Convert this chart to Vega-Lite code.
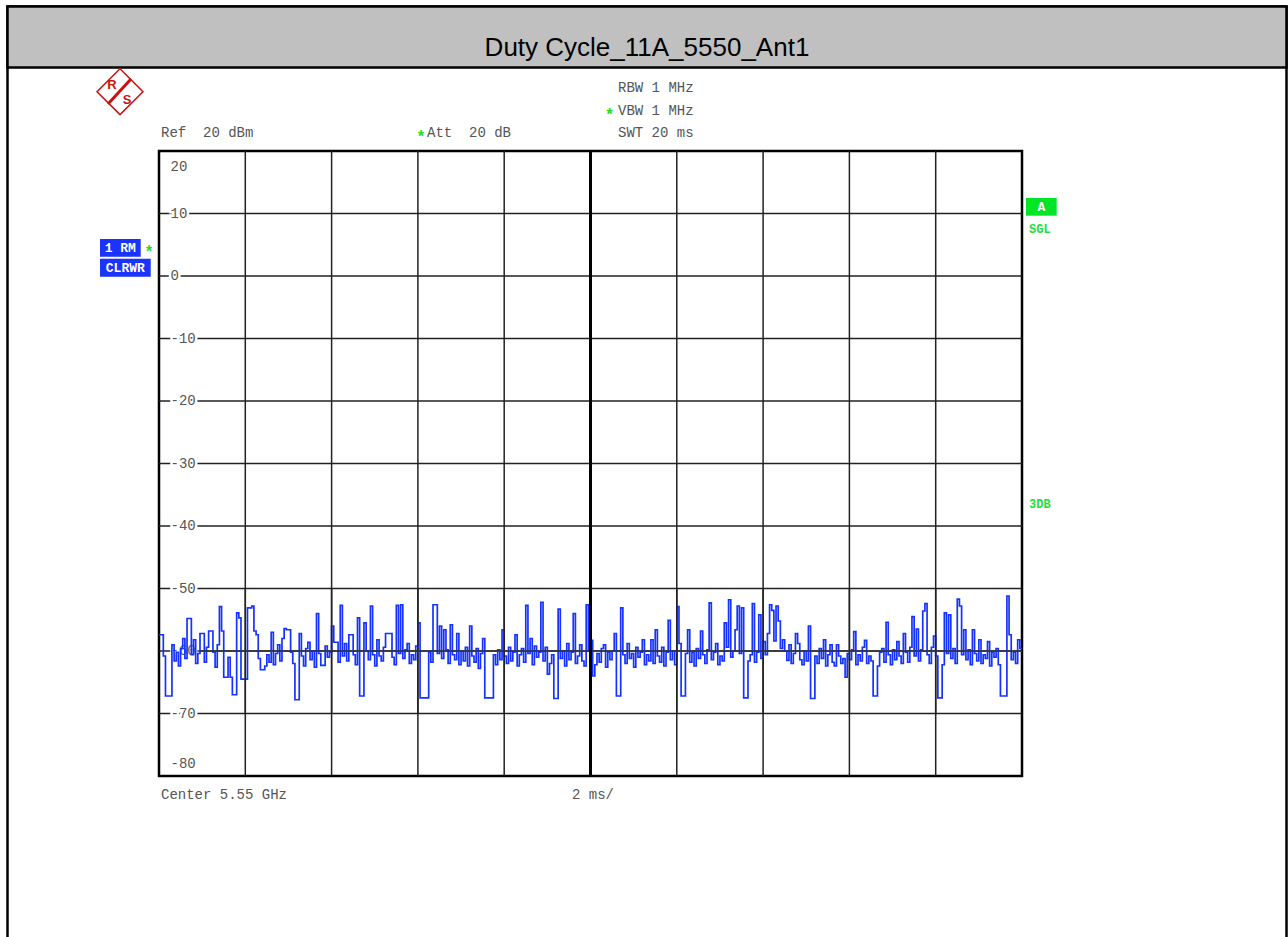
{
"$schema": "https://vega.github.io/schema/vega-lite/v6.json",
"width": 863, "height": 625,
"autosize": "none",
"padding": {"left": 159, "top": 151, "right": 266, "bottom": 161},
"background": "white",
"config": {"view": {"stroke": "black", "strokeWidth": 2.5}, "axis": {"disable": true}},
"datasets": {
"trace": [
{"t":0,"v":-57.4},{"t":0.05,"v":-57.4},{"t":0.1,"v":-60.8},{"t":0.15,"v":-67.2},{"t":0.2,"v":-67.2},{"t":0.25,"v":-67.2},{"t":0.3,"v":-59.0},{"t":0.35,"v":-61.6},{"t":0.4,"v":-60.2},{"t":0.45,"v":-62.4},
{"t":0.5,"v":-59.6},{"t":0.55,"v":-58.0},{"t":0.6,"v":-61.2},{"t":0.65,"v":-54.8},{"t":0.7,"v":-54.8},{"t":0.75,"v":-60.6},{"t":0.8,"v":-58.2},{"t":0.85,"v":-62.0},{"t":0.9,"v":-60.4},{"t":0.95,"v":-57.2},
{"t":1,"v":-57.2},{"t":1.05,"v":-61.8},{"t":1.1,"v":-59.4},{"t":1.15,"v":-56.8},{"t":1.2,"v":-56.8},{"t":1.25,"v":-60.2},{"t":1.3,"v":-62.6},{"t":1.35,"v":-59.0},{"t":1.4,"v":-52.9},{"t":1.45,"v":-56.8},
{"t":1.5,"v":-64.2},{"t":1.55,"v":-64.2},{"t":1.6,"v":-61.0},{"t":1.65,"v":-64.2},{"t":1.7,"v":-67.0},{"t":1.75,"v":-67.0},{"t":1.8,"v":-53.9},{"t":1.85,"v":-54.7},{"t":1.9,"v":-64.5},{"t":1.95,"v":-64.5},
{"t":2,"v":-64.5},{"t":2.05,"v":-53.1},{"t":2.1,"v":-53.1},{"t":2.15,"v":-52.8},{"t":2.2,"v":-56.8},{"t":2.25,"v":-57.4},{"t":2.3,"v":-61.2},{"t":2.35,"v":-63.0},{"t":2.4,"v":-63.0},{"t":2.45,"v":-62.4},
{"t":2.5,"v":-60.6},{"t":2.55,"v":-61.8},{"t":2.6,"v":-57.0},{"t":2.65,"v":-62.2},{"t":2.7,"v":-60.4},{"t":2.75,"v":-59.0},{"t":2.8,"v":-61.6},{"t":2.85,"v":-58.0},{"t":2.9,"v":-56.4},{"t":2.95,"v":-56.6},
{"t":3,"v":-56.6},{"t":3.05,"v":-60.2},{"t":3.1,"v":-62.0},{"t":3.15,"v":-67.8},{"t":3.2,"v":-67.8},{"t":3.25,"v":-57.2},{"t":3.3,"v":-60.8},{"t":3.35,"v":-62.4},{"t":3.4,"v":-59.6},{"t":3.45,"v":-58.6},
{"t":3.5,"v":-61.4},{"t":3.55,"v":-60.0},{"t":3.6,"v":-62.6},{"t":3.65,"v":-54.0},{"t":3.7,"v":-60.4},{"t":3.75,"v":-62.3},{"t":3.8,"v":-62.3},{"t":3.85,"v":-59.2},{"t":3.9,"v":-61.0},{"t":3.95,"v":-60.2},
{"t":4,"v":-56.0},{"t":4.05,"v":-58.6},{"t":4.1,"v":-58.6},{"t":4.15,"v":-61.8},{"t":4.2,"v":-52.7},{"t":4.25,"v":-60.8},{"t":4.3,"v":-58.8},{"t":4.35,"v":-61.6},{"t":4.4,"v":-57.4},{"t":4.45,"v":-57.4},
{"t":4.5,"v":-60.6},{"t":4.55,"v":-62.2},{"t":4.6,"v":-54.7},{"t":4.65,"v":-67.2},{"t":4.7,"v":-67.2},{"t":4.75,"v":-55.5},{"t":4.8,"v":-60.0},{"t":4.85,"v":-61.4},{"t":4.9,"v":-52.8},{"t":4.95,"v":-60.6},
{"t":5,"v":-62.4},{"t":5.05,"v":-58.2},{"t":5.1,"v":-60.8},{"t":5.15,"v":-61.6},{"t":5.2,"v":-59.4},{"t":5.25,"v":-57.2},{"t":5.3,"v":-57.2},{"t":5.35,"v":-57.2},{"t":5.4,"v":-61.0},{"t":5.45,"v":-62.2},
{"t":5.5,"v":-52.7},{"t":5.55,"v":-60.4},{"t":5.6,"v":-52.6},{"t":5.65,"v":-61.2},{"t":5.7,"v":-59.8},{"t":5.75,"v":-58.8},{"t":5.8,"v":-62.0},{"t":5.85,"v":-60.6},{"t":5.9,"v":-61.4},{"t":5.95,"v":-59.2},
{"t":6,"v":-55.5},{"t":6.05,"v":-67.5},{"t":6.1,"v":-67.5},{"t":6.15,"v":-67.5},{"t":6.2,"v":-67.5},{"t":6.25,"v":-60.2},{"t":6.3,"v":-61.8},{"t":6.35,"v":-52.6},{"t":6.4,"v":-52.6},{"t":6.45,"v":-60.4},
{"t":6.5,"v":-56.0},{"t":6.55,"v":-61.2},{"t":6.6,"v":-56.6},{"t":6.65,"v":-59.8},{"t":6.7,"v":-62.0},{"t":6.75,"v":-55.8},{"t":6.8,"v":-60.6},{"t":6.85,"v":-61.4},{"t":6.9,"v":-57.2},{"t":6.95,"v":-62.2},
{"t":7,"v":-60.0},{"t":7.05,"v":-61.6},{"t":7.1,"v":-59.4},{"t":7.15,"v":-62.4},{"t":7.2,"v":-56.0},{"t":7.25,"v":-60.8},{"t":7.3,"v":-61.8},{"t":7.35,"v":-59.6},{"t":7.4,"v":-62.8},{"t":7.45,"v":-60.4},
{"t":7.5,"v":-58.0},{"t":7.55,"v":-67.5},{"t":7.6,"v":-67.5},{"t":7.65,"v":-67.5},{"t":7.7,"v":-67.5},{"t":7.75,"v":-60.6},{"t":7.8,"v":-62.2},{"t":7.85,"v":-59.8},{"t":7.9,"v":-61.4},{"t":7.95,"v":-56.6},
{"t":8,"v":-60.8},{"t":8.05,"v":-62.0},{"t":8.1,"v":-59.4},{"t":8.15,"v":-61.6},{"t":8.2,"v":-60.2},{"t":8.25,"v":-57.4},{"t":8.3,"v":-62.4},{"t":8.35,"v":-60.6},{"t":8.4,"v":-59.6},{"t":8.45,"v":-61.8},
{"t":8.5,"v":-52.7},{"t":8.55,"v":-60.4},{"t":8.6,"v":-58.0},{"t":8.65,"v":-62.2},{"t":8.7,"v":-59.2},{"t":8.75,"v":-61.0},{"t":8.8,"v":-60.2},{"t":8.85,"v":-52.2},{"t":8.9,"v":-61.6},{"t":8.95,"v":-59.4},
{"t":9,"v":-63.7},{"t":9.05,"v":-62.0},{"t":9.1,"v":-60.6},{"t":9.15,"v":-67.6},{"t":9.2,"v":-67.6},{"t":9.25,"v":-53.3},{"t":9.3,"v":-61.2},{"t":9.35,"v":-60.0},{"t":9.4,"v":-62.4},{"t":9.45,"v":-58.8},
{"t":9.5,"v":-61.4},{"t":9.55,"v":-60.2},{"t":9.6,"v":-54.0},{"t":9.65,"v":-62.0},{"t":9.7,"v":-60.8},{"t":9.75,"v":-59.0},{"t":9.8,"v":-61.6},{"t":9.85,"v":-62.4},{"t":9.9,"v":-52.6},{"t":9.95,"v":-59.8},
{"t":10,"v":-58.3},{"t":10.05,"v":-64.0},{"t":10.1,"v":-62.2},{"t":10.15,"v":-60.4},{"t":10.2,"v":-61.8},{"t":10.25,"v":-59.6},{"t":10.3,"v":-59.0},{"t":10.35,"v":-62.6},{"t":10.4,"v":-60.2},{"t":10.45,"v":-61.4},
{"t":10.5,"v":-60.0},{"t":10.55,"v":-57.2},{"t":10.6,"v":-67.2},{"t":10.65,"v":-67.2},{"t":10.7,"v":-53.1},{"t":10.75,"v":-60.6},{"t":10.8,"v":-62.0},{"t":10.85,"v":-58.8},{"t":10.9,"v":-61.2},{"t":10.95,"v":-60.4},
{"t":11,"v":-62.6},{"t":11.05,"v":-59.4},{"t":11.1,"v":-61.0},{"t":11.15,"v":-60.2},{"t":11.2,"v":-58.2},{"t":11.25,"v":-62.2},{"t":11.3,"v":-60.6},{"t":11.35,"v":-61.6},{"t":11.4,"v":-58.2},{"t":11.45,"v":-62.0},
{"t":11.5,"v":-56.6},{"t":11.55,"v":-60.8},{"t":11.6,"v":-61.8},{"t":11.65,"v":-59.4},{"t":11.7,"v":-62.4},{"t":11.75,"v":-60.2},{"t":11.8,"v":-55.1},{"t":11.85,"v":-61.4},{"t":11.9,"v":-60.0},{"t":11.95,"v":-62.2},
{"t":12,"v":-52.9},{"t":12.05,"v":-58.8},{"t":12.1,"v":-67.2},{"t":12.15,"v":-67.2},{"t":12.2,"v":-60.4},{"t":12.25,"v":-56.6},{"t":12.3,"v":-61.8},{"t":12.35,"v":-60.2},{"t":12.4,"v":-62.4},{"t":12.45,"v":-59.6},
{"t":12.5,"v":-61.2},{"t":12.55,"v":-56.8},{"t":12.6,"v":-60.6},{"t":12.65,"v":-62.0},{"t":12.7,"v":-59.8},{"t":12.75,"v":-52.3},{"t":12.8,"v":-61.4},{"t":12.85,"v":-60.2},{"t":12.9,"v":-58.8},{"t":12.95,"v":-62.2},
{"t":13,"v":-60.8},{"t":13.05,"v":-61.6},{"t":13.1,"v":-55.5},{"t":13.15,"v":-59.4},{"t":13.2,"v":-51.8},{"t":13.25,"v":-61.0},{"t":13.3,"v":-60.0},{"t":13.35,"v":-56.6},{"t":13.4,"v":-52.8},{"t":13.45,"v":-60.4},
{"t":13.5,"v":-53.1},{"t":13.55,"v":-67.5},{"t":13.6,"v":-67.5},{"t":13.65,"v":-61.6},{"t":13.7,"v":-60.6},{"t":13.75,"v":-52.4},{"t":13.8,"v":-61.8},{"t":13.85,"v":-60.2},{"t":13.9,"v":-54.2},{"t":13.95,"v":-61.2},
{"t":14,"v":-58.5},{"t":14.05,"v":-60.6},{"t":14.1,"v":-57.2},{"t":14.15,"v":-52.6},{"t":14.2,"v":-53.5},{"t":14.25,"v":-58.4},{"t":14.3,"v":-52.8},{"t":14.35,"v":-55.2},{"t":14.4,"v":-59.6},{"t":14.45,"v":-58.2},
{"t":14.5,"v":-60.0},{"t":14.55,"v":-61.5},{"t":14.6,"v":-59.0},{"t":14.65,"v":-62.0},{"t":14.7,"v":-60.4},{"t":14.75,"v":-57.2},{"t":14.8,"v":-58.8},{"t":14.85,"v":-61.4},{"t":14.9,"v":-62.2},{"t":14.95,"v":-60.0},
{"t":15,"v":-61.6},{"t":15.05,"v":-56.0},{"t":15.1,"v":-67.6},{"t":15.15,"v":-67.6},{"t":15.2,"v":-60.8},{"t":15.25,"v":-62.0},{"t":15.3,"v":-59.6},{"t":15.35,"v":-61.2},{"t":15.4,"v":-58.2},{"t":15.45,"v":-62.4},
{"t":15.5,"v":-60.6},{"t":15.55,"v":-59.0},{"t":15.6,"v":-61.8},{"t":15.65,"v":-62.4},{"t":15.7,"v":-59.0},{"t":15.75,"v":-60.8},{"t":15.8,"v":-62.0},{"t":15.85,"v":-61.2},{"t":15.9,"v":-64.2},{"t":15.95,"v":-60.4},
{"t":16,"v":-61.4},{"t":16.05,"v":-59.8},{"t":16.1,"v":-56.9},{"t":16.15,"v":-62.2},{"t":16.2,"v":-60.6},{"t":16.25,"v":-61.6},{"t":16.3,"v":-59.4},{"t":16.35,"v":-58.3},{"t":16.4,"v":-62.0},{"t":16.45,"v":-60.8},
{"t":16.5,"v":-61.6},{"t":16.55,"v":-67.2},{"t":16.6,"v":-67.2},{"t":16.65,"v":-62.4},{"t":16.7,"v":-60.2},{"t":16.75,"v":-59.6},{"t":16.8,"v":-61.8},{"t":16.85,"v":-55.4},{"t":16.9,"v":-60.6},{"t":16.95,"v":-62.2},
{"t":17,"v":-59.8},{"t":17.05,"v":-61.4},{"t":17.1,"v":-58.5},{"t":17.15,"v":-60.8},{"t":17.2,"v":-62.0},{"t":17.25,"v":-57.2},{"t":17.3,"v":-60.2},{"t":17.35,"v":-61.8},{"t":17.4,"v":-59.4},{"t":17.45,"v":-54.5},
{"t":17.5,"v":-60.8},{"t":17.55,"v":-56.5},{"t":17.6,"v":-61.6},{"t":17.65,"v":-59.8},{"t":17.7,"v":-53.6},{"t":17.75,"v":-52.4},{"t":17.8,"v":-60.6},{"t":17.85,"v":-62.0},{"t":17.9,"v":-59.4},{"t":17.95,"v":-57.6},
{"t":18,"v":-60.8},{"t":18.05,"v":-67.5},{"t":18.1,"v":-67.5},{"t":18.15,"v":-62.2},{"t":18.2,"v":-53.9},{"t":18.25,"v":-60.4},{"t":18.3,"v":-54.2},{"t":18.35,"v":-61.2},{"t":18.4,"v":-59.6},{"t":18.45,"v":-62.0},
{"t":18.5,"v":-51.7},{"t":18.55,"v":-52.8},{"t":18.6,"v":-60.6},{"t":18.65,"v":-56.6},{"t":18.7,"v":-61.4},{"t":18.75,"v":-59.8},{"t":18.8,"v":-62.2},{"t":18.85,"v":-56.6},{"t":18.9,"v":-60.4},{"t":18.95,"v":-61.6},
{"t":19,"v":-58.2},{"t":19.05,"v":-62.0},{"t":19.1,"v":-60.6},{"t":19.15,"v":-61.2},{"t":19.2,"v":-58.5},{"t":19.25,"v":-62.4},{"t":19.3,"v":-60.2},{"t":19.35,"v":-61.0},{"t":19.4,"v":-59.6},{"t":19.45,"v":-62.2},
{"t":19.5,"v":-67.2},{"t":19.55,"v":-67.2},{"t":19.6,"v":-67.2},{"t":19.65,"v":-51.2},{"t":19.7,"v":-57.4},{"t":19.75,"v":-61.4},{"t":19.8,"v":-60.2},{"t":19.85,"v":-62.0},{"t":19.9,"v":-58.2},{"t":19.95,"v":-59.6},
{"t":20,"v":-59.6}
],
"vgrid": [{"t":2},{"t":4},{"t":6},{"t":8},{"t":12},{"t":14},{"t":16},{"t":18}],
"hgrid": [{"v":10,"lab":"10"},{"v":0,"lab":"0"},{"v":-10,"lab":"-10"},{"v":-20,"lab":"-20"},{"v":-30,"lab":"-30"},{"v":-40,"lab":"-40"},{"v":-50,"lab":"-50"},{"v":-60,"lab":"-60"},{"v":-70,"lab":"-70"}]
},
"data": {"values": [{}]},
"layer": [
{"mark": {"type": "rect", "fillOpacity": 0, "stroke": "black", "strokeWidth": 2.5},
 "encoding": {"x": {"datum": -3.511, "type": "quantitative"}, "x2": {"datum": 26.13}, "y": {"datum": 43.12, "type": "quantitative"}, "y2": {"datum": -115.84}}},
{"mark": {"type": "rect", "fill": "#c0c0c0", "stroke": "black", "strokeWidth": 2.5},
 "encoding": {"x": {"datum": -3.511, "type": "quantitative"}, "x2": {"datum": 26.13}, "y": {"datum": 43.12, "type": "quantitative"}, "y2": {"datum": 33.36}}},
{"mark": {"type": "text", "text": "Duty Cycle_11A_5550_Ant1", "font": "Liberation Sans", "fontSize": 26, "color": "black", "align": "center", "baseline": "alphabetic"},
 "encoding": {"x": {"datum": 11.309, "type": "quantitative"}, "y": {"datum": 35.28, "type": "quantitative"}}},
{"data": {"name": "vgrid"},
 "mark": {"type": "rule", "color": "#222222", "strokeWidth": 1.5},
 "encoding": {"x": {"field": "t", "type": "quantitative"}}},
{"data": {"name": "hgrid"},
 "mark": {"type": "rule", "color": "#222222", "strokeWidth": 1.5},
 "encoding": {"y": {"field": "v", "type": "quantitative"}}},
{"data": {"name": "hgrid"},
 "mark": {"type": "text", "font": "Liberation Mono", "fontSize": 14, "align": "left", "baseline": "middle", "dx": 11.5, "fill": "white", "stroke": "white", "strokeWidth": 5},
 "encoding": {"x": {"datum": 0, "type": "quantitative"}, "y": {"field": "v", "type": "quantitative"}, "text": {"field": "lab"}}},
{"data": {"name": "hgrid"},
 "mark": {"type": "text", "font": "Liberation Mono", "fontSize": 14, "align": "left", "baseline": "middle", "dx": 11.5, "fill": "#555555"},
 "encoding": {"x": {"datum": 0, "type": "quantitative"}, "y": {"field": "v", "type": "quantitative"}, "text": {"field": "lab"}}},
{"data": {"name": "trace"},
 "mark": {"type": "line", "interpolate": "step-after", "color": "#1433ff", "strokeWidth": 1.7},
 "encoding": {"x": {"field": "t", "type": "quantitative", "scale": {"domain": [0, 20], "nice": false, "zero": false}, "axis": null},
  "y": {"field": "v", "type": "quantitative", "scale": {"domain": [-80, 20], "nice": false, "zero": false}, "axis": null}}},
{"data": {"name": "vgrid"},
 "mark": {"type": "rule", "color": "#222222", "strokeWidth": 1.5},
 "encoding": {"x": {"field": "t", "type": "quantitative"}, "y": {"datum": -50, "type": "quantitative"}, "y2": {"datum": -70}}},
{"mark": {"type": "rule", "color": "#333333", "strokeWidth": 1.5},
 "encoding": {"x": {"datum": 0.95, "type": "quantitative"}, "x2": {"datum": 20}, "y": {"datum": -60, "type": "quantitative"}}},
{"mark": {"type": "rule", "color": "black", "strokeWidth": 3},
 "encoding": {"x": {"datum": 10, "type": "quantitative"}}},
{"mark": {"type": "text", "text": "20", "font": "Liberation Mono", "fontSize": 14, "align": "left", "baseline": "middle", "dx": 11.5, "dy": 15.5, "fill": "#555555"},
 "encoding": {"x": {"datum": 0, "type": "quantitative"}, "y": {"datum": 20, "type": "quantitative"}}},
{"mark": {"type": "text", "text": "-80", "font": "Liberation Mono", "fontSize": 14, "align": "left", "baseline": "middle", "dx": 11.5, "dy": -12, "fill": "#555555"},
 "encoding": {"x": {"datum": 0, "type": "quantitative"}, "y": {"datum": -80, "type": "quantitative"}}},
{"mark": {"type": "text", "text": "RBW 1 MHz", "font": "Liberation Mono", "fontSize": 14, "align": "left", "baseline": "middle", "fill": "#555555"},
 "encoding": {"x": {"datum": 10.637, "type": "quantitative"}, "y": {"datum": 30.16, "type": "quantitative"}}},
{"mark": {"type": "text", "text": "VBW 1 MHz", "font": "Liberation Mono", "fontSize": 14, "align": "left", "baseline": "middle", "fill": "#555555"},
 "encoding": {"x": {"datum": 10.637, "type": "quantitative"}, "y": {"datum": 26.4, "type": "quantitative"}}},
{"mark": {"type": "text", "text": "*", "font": "Liberation Mono", "fontSize": 16, "align": "center", "baseline": "middle", "dy": 4, "fill": "#22dd22", "fontWeight": "bold"},
 "encoding": {"x": {"datum": 10.44, "type": "quantitative"}, "y": {"datum": 26.4, "type": "quantitative"}}},
{"mark": {"type": "text", "text": "SWT 20 ms", "font": "Liberation Mono", "fontSize": 14, "align": "left", "baseline": "middle", "fill": "#555555"},
 "encoding": {"x": {"datum": 10.637, "type": "quantitative"}, "y": {"datum": 22.96, "type": "quantitative"}}},
{"mark": {"type": "text", "text": "Ref \u00a020 dBm", "font": "Liberation Mono", "fontSize": 14, "align": "left", "baseline": "middle", "fill": "#555555"},
 "encoding": {"x": {"datum": 0.046, "type": "quantitative"}, "y": {"datum": 22.96, "type": "quantitative"}}},
{"mark": {"type": "text", "text": "Att \u00a020 dB", "font": "Liberation Mono", "fontSize": 14, "align": "left", "baseline": "middle", "fill": "#555555"},
 "encoding": {"x": {"datum": 6.211, "type": "quantitative"}, "y": {"datum": 22.96, "type": "quantitative"}}},
{"mark": {"type": "text", "text": "*", "font": "Liberation Mono", "fontSize": 16, "align": "center", "baseline": "middle", "dy": 4, "fill": "#22dd22", "fontWeight": "bold"},
 "encoding": {"x": {"datum": 6.072, "type": "quantitative"}, "y": {"datum": 22.96, "type": "quantitative"}}},
{"mark": {"type": "text", "text": "Center 5.55 GHz", "font": "Liberation Mono", "fontSize": 14, "align": "left", "baseline": "middle", "fill": "#555555"},
 "encoding": {"x": {"datum": 0.046, "type": "quantitative"}, "y": {"datum": -83.04, "type": "quantitative"}}},
{"mark": {"type": "text", "text": "2 ms/", "font": "Liberation Mono", "fontSize": 14, "align": "left", "baseline": "middle", "fill": "#555555"},
 "encoding": {"x": {"datum": 9.571, "type": "quantitative"}, "y": {"datum": -83.04, "type": "quantitative"}}},
{"mark": {"type": "rect", "fill": "#1a33ff"},
 "encoding": {"x": {"datum": -1.367, "type": "quantitative"}, "x2": {"datum": -0.424}, "y": {"datum": 5.92, "type": "quantitative"}, "y2": {"datum": 3.088}}},
{"mark": {"type": "rect", "fill": "#1a33ff"},
 "encoding": {"x": {"datum": -1.367, "type": "quantitative"}, "x2": {"datum": -0.192}, "y": {"datum": 2.768, "type": "quantitative"}, "y2": {"datum": -0.112}}},
{"mark": {"type": "text", "text": "1 RM", "font": "Liberation Mono", "fontSize": 13, "fontWeight": "bold", "align": "center", "baseline": "middle", "fill": "white"},
 "encoding": {"x": {"datum": -0.897, "type": "quantitative"}, "y": {"datum": 4.496, "type": "quantitative"}}},
{"mark": {"type": "text", "text": "CLRWR", "font": "Liberation Mono", "fontSize": 13, "fontWeight": "bold", "align": "center", "baseline": "middle", "fill": "white"},
 "encoding": {"x": {"datum": -0.781, "type": "quantitative"}, "y": {"datum": 1.328, "type": "quantitative"}}},
{"mark": {"type": "text", "text": "*", "font": "Liberation Mono", "fontSize": 16, "align": "center", "baseline": "middle", "dy": 4, "fill": "#22dd22", "fontWeight": "bold"},
 "encoding": {"x": {"datum": -0.232, "type": "quantitative"}, "y": {"datum": 4.48, "type": "quantitative"}}},
{"mark": {"type": "rect", "fill": "#00e626"},
 "encoding": {"x": {"datum": 20.093, "type": "quantitative"}, "x2": {"datum": 20.804}, "y": {"datum": 12.48, "type": "quantitative"}, "y2": {"datum": 9.648}}},
{"mark": {"type": "text", "text": "A", "font": "Liberation Mono", "fontSize": 13, "fontWeight": "bold", "align": "center", "baseline": "middle", "fill": "white"},
 "encoding": {"x": {"datum": 20.447, "type": "quantitative"}, "y": {"datum": 11.04, "type": "quantitative"}}},
{"mark": {"type": "text", "text": "SGL", "font": "Liberation Mono", "fontSize": 12, "fontWeight": "bold", "align": "left", "baseline": "middle", "fill": "#22dd44"},
 "encoding": {"x": {"datum": 20.162, "type": "quantitative"}, "y": {"datum": 7.52, "type": "quantitative"}}},
{"mark": {"type": "text", "text": "3DB", "font": "Liberation Mono", "fontSize": 12, "fontWeight": "bold", "align": "left", "baseline": "middle", "fill": "#22dd44"},
 "encoding": {"x": {"datum": 20.162, "type": "quantitative"}, "y": {"datum": -36.48, "type": "quantitative"}}},
{"mark": {"type": "point", "shape": "square", "angle": 45, "size": 1056, "filled": false, "stroke": "#cc1111", "strokeWidth": 1.5, "opacity": 1},
 "encoding": {"x": {"datum": -0.904, "type": "quantitative"}, "y": {"datum": 29.488, "type": "quantitative"}}},
{"mark": {"type": "rule", "color": "#cc1111", "strokeWidth": 3},
 "encoding": {"x": {"datum": -0.649, "type": "quantitative"}, "x2": {"datum": -1.182}, "y": {"datum": 31.52, "type": "quantitative"}, "y2": {"datum": 27.52}}},
{"mark": {"type": "text", "text": "R", "font": "Liberation Sans", "fontSize": 13, "fontWeight": "bold", "align": "center", "baseline": "middle", "fill": "#cc1111"},
 "encoding": {"x": {"datum": -1.089, "type": "quantitative"}, "y": {"datum": 30.56, "type": "quantitative"}}},
{"mark": {"type": "text", "text": "S", "font": "Liberation Sans", "fontSize": 13, "fontWeight": "bold", "align": "center", "baseline": "middle", "fill": "#cc1111"},
 "encoding": {"x": {"datum": -0.742, "type": "quantitative"}, "y": {"datum": 28.16, "type": "quantitative"}}}
]
}
